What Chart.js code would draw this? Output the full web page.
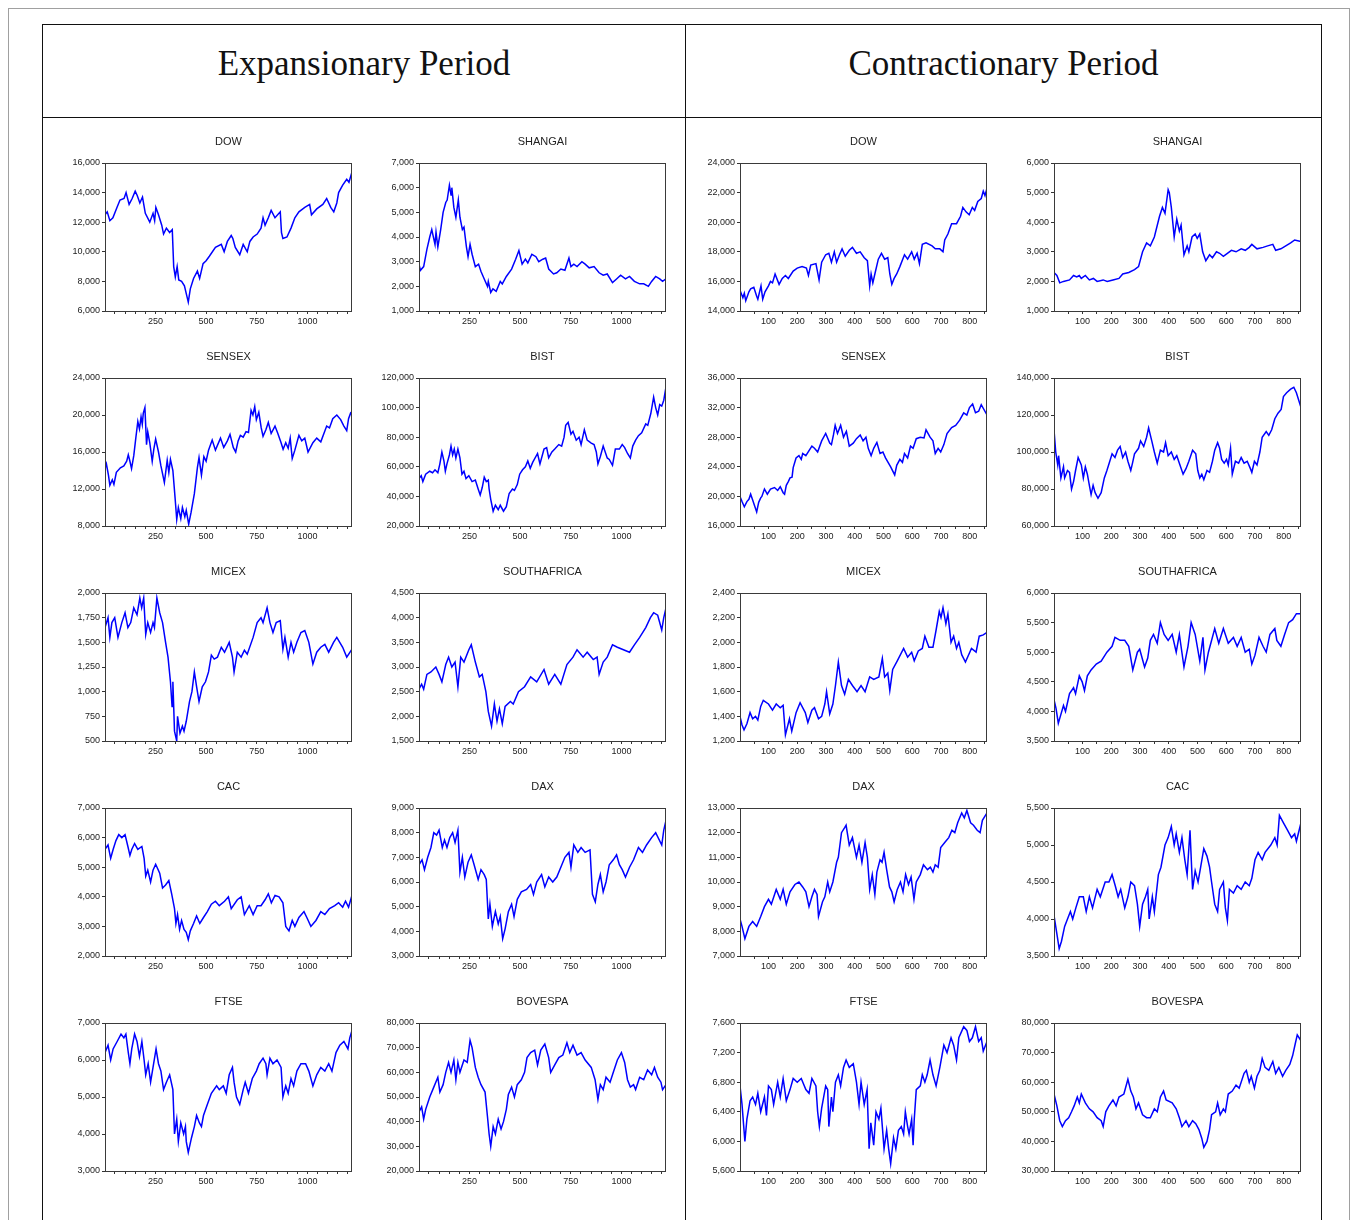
<!DOCTYPE html>
<html lang="en">
<head>
<meta charset="utf-8" />
<script src="https://cdn.jsdelivr.net/npm/chart.js@4.4.1/dist/chart.umd.min.js"></script>
<style>
  body { margin: 0; width: 1357px; height: 1220px; overflow: hidden; background: #fff; position: relative; }
  .box { position: absolute; box-sizing: border-box; }
  #outer { left: 8px; top: 8px; width: 1342px; height: 1300px; border: 1px solid #a0a0a0; }
  #table { left: 42px; top: 24px; width: 1280px; height: 1300px; border: 1.5px solid #111; }
  #hline { left: 42px; top: 117px; width: 1280px; height: 0; border-top: 1.5px solid #111; }
  #vline { left: 685px; top: 24px; width: 0; height: 1300px; border-left: 1.5px solid #111; }
  .head { position: absolute; top: 46px; font: 35px/35px "Liberation Serif", "Times New Roman", serif; color: #111; text-align: center; }
  canvas { position: absolute; }
</style>
</head>
<body>
<div class="box" id="outer"></div>
<div class="box" id="table"></div>
<div class="box" id="hline"></div>
<div class="box" id="vline"></div>
<div class="head" style="left:42px;width:644px">Expansionary Period</div>
<div class="head" style="left:686px;width:635px">Contractionary Period</div>
<script>
// ---- expansionary period, [observation, index level] ----
const expDow = [[1,12500],[12,12700],[25,12100],[40,12300],[60,13000],[75,13500],[95,13600],[105,14000],[120,13200],[135,13600],[150,14100],[160,13800],[173,13300],[186,13700],[200,12600],[222,12000],[238,12600],[246,12100],[252,13000],[265,12500],[281,11800],[290,11200],[304,11600],[320,11300],[333,11500],[340,9000],[348,8300],[357,9000],[365,8100],[379,8000],[393,7700],[405,7000],[412,6600],[422,7500],[438,8200],[457,8700],[468,8200],[485,9200],[500,9400],[516,9700],[546,10300],[575,10500],[589,10000],[605,10700],[624,11100],[632,10900],[644,10300],[666,9800],[683,10500],[703,10000],[716,10700],[732,11000],[752,11200],[771,11600],[781,12300],[791,11800],[807,12300],[821,12800],[840,12300],[866,12700],[872,11300],[879,10900],[899,11000],[919,11600],[938,12300],[958,12700],[987,13000],[1011,13200],[1020,12500],[1046,12900],[1076,13200],[1095,13600],[1115,13000],[1130,12700],[1145,13300],[1154,14000],[1174,14500],[1194,14900],[1205,14700],[1220,15400]];
const expShangai = [[1,2900],[8,2650],[24,2800],[40,3500],[54,4000],[64,4300],[80,3700],[85,4200],[94,3600],[108,4300],[120,5000],[133,5400],[140,5500],[151,6100],[159,5700],[163,6000],[173,5200],[183,4800],[195,5500],[203,4800],[215,4300],[223,4400],[235,3600],[243,3200],[253,3700],[263,3300],[279,2800],[295,2900],[307,2600],[323,2300],[339,2000],[343,2200],[355,1750],[366,1900],[382,1800],[402,2200],[412,2100],[432,2400],[458,2700],[478,3100],[494,3450],[510,2900],[526,3100],[538,2950],[558,3300],[578,3200],[592,3000],[612,3100],[626,3150],[641,2700],[665,2500],[681,2550],[701,2700],[721,2650],[741,3150],[751,2800],[765,2900],[781,2800],[805,3000],[821,2900],[841,2750],[865,2800],[890,2550],[910,2450],[930,2500],[956,2150],[976,2300],[996,2450],[1020,2300],[1040,2400],[1064,2200],[1090,2100],[1110,2100],[1133,2000],[1149,2200],[1169,2400],[1189,2300],[1203,2200],[1220,2300]];
const expSensex = [[1,14200],[8,14700],[18,13500],[25,12400],[37,13000],[45,12500],[57,13800],[77,14300],[94,14500],[108,15000],[116,15700],[124,15000],[132,14200],[143,15600],[153,17500],[163,19300],[171,18500],[179,19800],[185,19000],[190,20200],[198,20800],[206,16800],[212,18200],[222,17000],[234,15000],[242,16300],[251,17400],[265,16000],[277,14500],[294,12700],[308,15100],[316,13800],[324,15200],[336,14000],[347,11000],[355,8700],[363,10000],[375,8800],[383,10000],[395,9000],[402,9700],[414,8200],[426,9500],[442,11500],[457,14300],[465,15400],[477,13500],[489,15500],[500,15000],[512,16200],[530,17300],[546,16200],[571,17500],[587,16500],[605,17200],[618,17900],[634,16500],[646,16000],[658,17200],[669,17800],[683,17600],[697,18200],[709,18100],[722,20500],[731,20000],[740,20900],[748,19500],[760,20300],[772,18600],[781,17700],[795,18400],[807,19200],[821,18000],[840,18800],[854,18000],[870,17000],[880,16300],[893,17000],[905,16400],[915,17500],[925,15300],[938,16200],[958,17800],[972,17200],[987,17500],[1003,16000],[1027,17000],[1046,17500],[1066,17100],[1095,18800],[1109,18600],[1125,19600],[1145,20000],[1164,19500],[1180,18800],[1194,18300],[1203,19600],[1213,20200],[1220,20000]];
const expBist = [[1,52000],[12,54000],[20,50000],[34,55000],[54,57000],[68,56000],[80,58000],[94,56000],[104,62000],[114,70000],[124,64000],[131,57000],[139,62000],[151,68000],[159,74000],[167,68000],[175,72000],[183,66000],[193,72000],[203,66000],[213,55000],[223,57000],[233,52000],[247,54000],[263,50000],[279,51000],[293,45000],[303,41000],[313,46000],[323,53000],[333,50000],[343,51000],[347,45000],[355,38000],[367,30000],[378,34000],[392,31000],[402,34000],[418,30000],[432,33000],[446,42000],[462,45000],[472,44000],[486,48000],[498,55000],[512,58000],[526,60000],[538,64000],[550,59000],[562,63000],[586,69000],[598,62000],[618,72000],[631,73000],[641,66000],[657,70000],[671,72000],[691,75000],[705,74000],[717,80000],[725,88000],[737,90000],[751,82000],[761,84000],[777,78000],[791,80000],[801,75000],[817,85000],[831,78000],[851,76000],[865,75000],[876,70000],[884,62000],[896,67000],[910,74000],[930,66000],[940,65000],[956,61000],[970,72000],[990,72000],[1004,75000],[1016,73000],[1030,69000],[1044,66000],[1056,74000],[1070,78000],[1084,81000],[1100,83000],[1120,89000],[1130,88000],[1145,96000],[1159,107000],[1169,100000],[1179,95000],[1189,102000],[1199,101000],[1209,105000],[1220,114000]];
const expMicex = [[1,1650],[16,1750],[25,1550],[35,1700],[49,1750],[65,1550],[84,1700],[100,1800],[114,1650],[128,1700],[143,1850],[159,1780],[173,1950],[182,1850],[192,1950],[202,1580],[212,1700],[226,1600],[238,1700],[245,1650],[257,1950],[271,1800],[285,1700],[300,1500],[312,1350],[324,1100],[332,850],[336,1100],[344,600],[355,500],[359,750],[371,580],[383,650],[391,600],[402,700],[418,900],[430,1000],[442,1200],[453,1050],[465,900],[481,1050],[497,1100],[512,1200],[526,1370],[540,1330],[556,1350],[575,1450],[591,1400],[614,1500],[630,1350],[638,1200],[654,1400],[673,1350],[689,1420],[703,1380],[732,1550],[752,1700],[771,1750],[781,1700],[801,1850],[815,1700],[830,1600],[846,1700],[866,1720],[879,1430],[889,1550],[905,1350],[919,1500],[932,1400],[948,1500],[968,1600],[987,1620],[1007,1500],[1027,1280],[1046,1400],[1066,1450],[1086,1480],[1105,1400],[1129,1500],[1145,1550],[1174,1450],[1194,1350],[1220,1430]];
const expSouthAfrica = [[1,2550],[14,2650],[24,2550],[40,2850],[60,2900],[84,3000],[100,2850],[114,2700],[133,3050],[147,3200],[163,3000],[179,3100],[193,2600],[207,3200],[223,3100],[247,3350],[259,3450],[279,3100],[299,2800],[313,2850],[331,2500],[343,2100],[359,1800],[373,2250],[386,1900],[398,2150],[412,1850],[426,2200],[452,2300],[466,2250],[492,2500],[522,2600],[552,2800],[582,2700],[618,2950],[641,2650],[671,2850],[701,2650],[731,3050],[761,3200],[781,3350],[811,3200],[831,3300],[861,3150],[880,3200],[890,2850],[910,3100],[930,3200],[956,3450],[980,3400],[1010,3350],[1040,3300],[1064,3450],[1090,3600],[1120,3800],[1143,4000],[1159,4100],[1179,4050],[1199,3750],[1209,4000],[1220,4200]];
const expCac = [[1,5600],[16,5750],[29,5300],[41,5600],[55,5900],[69,6100],[84,6000],[100,6100],[114,5700],[124,5400],[133,5600],[147,5800],[163,5600],[183,5700],[194,5300],[202,4700],[212,4900],[226,4500],[238,4900],[251,5100],[271,4800],[285,4300],[300,4400],[316,4550],[330,4100],[344,3600],[351,3100],[359,3400],[369,2900],[379,3200],[391,2900],[402,2800],[412,2550],[422,2850],[438,3100],[453,3350],[469,3100],[487,3300],[506,3500],[526,3750],[546,3850],[565,3700],[591,3850],[610,4000],[624,3600],[654,3900],[673,4000],[689,3400],[713,3700],[732,3400],[752,3700],[771,3700],[791,3900],[807,4100],[822,3800],[840,4050],[860,4000],[879,3800],[893,3000],[909,2850],[925,3200],[938,3000],[958,3300],[983,3500],[997,3300],[1017,3000],[1042,3200],[1066,3500],[1086,3400],[1109,3600],[1135,3700],[1154,3800],[1174,3650],[1188,3850],[1203,3650],[1220,4050]];
const expDax = [[1,6700],[16,6900],[28,6500],[44,7000],[60,7400],[74,8000],[88,7900],[100,8100],[116,7400],[127,7700],[139,7400],[153,7800],[167,8000],[179,7600],[193,8100],[203,6400],[215,7000],[227,6200],[243,6800],[259,7100],[273,6700],[293,6100],[307,6500],[323,6300],[333,6100],[343,4500],[351,5100],[363,4200],[378,4800],[392,4300],[402,4600],[414,3700],[426,4100],[442,4800],[458,5100],[470,4600],[486,5300],[506,5600],[532,5700],[552,5900],[566,5500],[582,6000],[606,6300],[622,5800],[641,6200],[661,6000],[681,6200],[701,6600],[721,7000],[741,7200],[751,6600],[765,7500],[785,7200],[801,7400],[821,7200],[845,7300],[857,5500],[871,5200],[884,5900],[896,6300],[910,5600],[924,6000],[940,6700],[960,6900],[976,7100],[990,6700],[1004,6500],[1020,6200],[1040,6600],[1060,6900],[1084,7400],[1104,7200],[1124,7500],[1149,7800],[1169,8000],[1199,7500],[1209,8100],[1220,8500]];
const expFtse = [[1,6200],[16,6400],[29,6000],[41,6300],[61,6500],[80,6700],[94,6600],[104,6700],[116,6200],[124,5900],[133,6300],[147,6700],[159,6500],[171,6100],[183,6500],[194,6000],[202,5600],[214,5900],[226,5400],[238,5800],[253,6300],[265,5900],[277,5700],[290,5200],[304,5400],[320,5600],[336,5200],[344,4000],[355,4400],[363,3800],[375,4300],[389,4000],[398,4200],[402,3800],[412,3500],[428,3900],[442,4200],[453,4500],[467,4300],[477,4200],[487,4500],[506,4800],[526,5100],[552,5300],[565,5200],[585,5300],[599,5100],[614,5600],[630,5800],[638,5400],[650,5000],[666,4800],[683,5200],[693,5400],[709,5100],[728,5500],[748,5700],[762,5900],[781,6050],[795,5900],[801,5600],[815,6050],[830,5900],[850,6000],[870,5800],[879,5000],[893,5300],[905,5100],[919,5500],[932,5300],[948,5700],[968,5900],[991,5900],[1007,5700],[1027,5300],[1046,5600],[1066,5800],[1086,5700],[1105,5900],[1121,5700],[1141,6200],[1160,6400],[1180,6500],[1200,6300],[1209,6600],[1220,6800]];
const expBovespa = [[1,44000],[14,46000],[24,41000],[34,45000],[54,50000],[74,54000],[94,58000],[104,52000],[120,55000],[133,60000],[147,64000],[159,60000],[173,65000],[183,57000],[193,64000],[203,60000],[223,65000],[239,64000],[253,73000],[263,70000],[279,62000],[293,58000],[307,55000],[327,52000],[339,42000],[347,35000],[355,30000],[367,38000],[378,35000],[392,41000],[406,37000],[418,40000],[432,45000],[442,51000],[458,54000],[472,50000],[486,55000],[506,57000],[522,60000],[534,66000],[552,68000],[572,69000],[586,63000],[602,69000],[622,71500],[641,66000],[651,60000],[671,63000],[691,66000],[711,67000],[731,72000],[745,68000],[761,71000],[781,67000],[801,68000],[821,65000],[851,62000],[870,57000],[884,49000],[896,55000],[910,53000],[924,58000],[944,56000],[960,60000],[980,65000],[1000,68000],[1016,64000],[1030,57000],[1044,54000],[1060,55000],[1070,53000],[1090,58000],[1110,57000],[1129,61000],[1149,59000],[1163,62000],[1179,58000],[1195,56000],[1203,53000],[1220,55000]];

// ---- contractionary period ----
const conDow = [[1,15400],[11,14900],[16,15200],[21,14700],[32,15300],[38,15500],[49,15600],[59,15000],[63,14800],[74,15700],[80,14800],[88,15300],[100,15700],[107,16000],[114,15900],[123,16500],[137,15800],[148,16200],[159,16400],[169,16200],[186,16700],[200,16900],[217,17000],[232,16900],[239,16400],[247,17100],[265,17200],[276,16100],[285,17300],[299,17800],[310,17900],[319,17300],[329,18000],[337,17300],[347,17800],[356,18200],[367,17700],[381,18100],[392,18300],[406,17900],[419,18000],[433,17600],[444,17400],[452,15700],[457,16500],[463,15900],[470,16500],[482,17500],[493,17900],[504,17500],[515,17600],[522,16500],[529,15800],[537,16200],[546,16500],[557,17000],[573,17800],[584,17500],[598,18000],[607,17500],[617,17900],[625,17200],[635,18500],[648,18600],[669,18400],[680,18200],[696,18200],[707,18000],[713,18800],[724,19200],[737,19900],[754,19900],[768,20400],[776,21000],[787,20700],[798,20500],[809,21000],[817,20800],[828,21400],[840,21600],[847,22100],[853,21800],[860,22300]];
const conShangai = [[1,2300],[11,2200],[21,1950],[34,2000],[55,2050],[69,2200],[80,2150],[89,2200],[96,2100],[110,2200],[124,2050],[138,2100],[151,2000],[172,2050],[186,2000],[206,2050],[227,2100],[240,2250],[261,2300],[281,2400],[295,2500],[309,3000],[323,3300],[336,3200],[350,3500],[368,4200],[378,4500],[387,4300],[398,5100],[402,5000],[409,4500],[419,3500],[428,4100],[437,3700],[443,3900],[453,2900],[464,3200],[470,3000],[481,3500],[492,3600],[499,3450],[508,3600],[518,3000],[529,2700],[542,2900],[552,2800],[566,3000],[577,2950],[590,2850],[604,2950],[618,3050],[634,3000],[652,3100],[666,3050],[680,3150],[689,3250],[707,3100],[728,3150],[744,3200],[762,3250],[772,3050],[790,3100],[807,3200],[824,3300],[838,3400],[860,3350]];
const conSensex = [[1,20000],[8,19300],[16,18600],[25,19300],[32,19600],[38,20300],[45,19500],[52,18700],[59,17900],[66,19200],[73,19800],[77,20000],[86,21000],[96,20300],[107,21000],[121,21200],[132,20800],[141,21300],[151,20500],[156,20300],[162,21500],[169,22000],[175,22500],[182,22600],[186,23900],[196,25200],[206,25500],[214,25000],[219,25800],[230,25500],[251,26800],[260,26500],[271,26000],[285,27500],[299,28500],[313,27200],[319,27000],[326,28300],[332,29600],[340,28500],[351,29600],[361,28000],[371,28800],[381,26800],[395,27200],[406,27800],[419,28300],[429,27500],[439,28000],[447,26500],[457,25500],[466,26500],[477,27300],[488,25800],[498,26000],[507,25200],[525,24000],[539,22900],[546,24200],[557,25000],[566,24600],[573,25800],[584,25200],[594,26800],[603,26500],[614,27800],[628,28000],[641,27900],[648,29000],[662,28000],[672,27500],[680,25800],[690,26500],[699,26000],[710,27000],[721,28500],[737,29300],[751,29600],[765,30300],[779,31300],[790,31000],[799,32000],[810,32500],[820,31300],[831,31500],[840,32400],[860,31000]];
const conBist = [[1,112000],[7,100000],[14,93000],[17,98000],[25,86000],[34,92000],[38,86000],[48,90000],[55,89000],[62,80000],[69,84000],[76,90000],[85,97000],[96,93000],[103,86000],[110,92000],[117,88000],[124,82000],[130,77000],[137,82000],[144,78000],[154,75000],[165,78000],[176,86000],[185,90000],[195,95000],[203,99000],[213,97000],[222,101000],[231,103000],[240,97000],[250,100000],[258,95000],[268,90000],[274,94000],[281,99000],[295,102000],[302,106000],[313,103000],[323,108000],[330,113000],[341,106000],[350,100000],[360,94000],[371,101000],[382,100000],[389,105000],[398,98000],[409,100000],[419,96000],[428,98000],[439,93000],[450,88000],[460,91000],[470,95000],[483,101000],[494,99000],[501,90000],[508,86000],[515,88000],[522,85000],[533,90000],[542,89000],[552,95000],[560,101000],[570,105000],[577,102000],[584,96000],[593,94000],[601,96000],[607,93000],[615,102000],[621,88000],[632,95000],[643,94000],[652,97000],[662,94000],[673,95000],[684,91000],[689,89000],[698,95000],[707,93000],[717,100000],[725,108000],[739,111000],[748,109000],[758,112000],[769,118000],[780,121000],[791,123000],[799,130000],[810,132000],[824,134000],[835,135000],[844,132000],[860,124000]];
const conMicex = [[1,1400],[8,1330],[15,1290],[25,1340],[36,1430],[45,1380],[55,1400],[63,1370],[73,1480],[82,1530],[100,1500],[114,1450],[127,1500],[141,1470],[151,1490],[159,1250],[173,1380],[181,1280],[196,1430],[210,1510],[228,1430],[237,1350],[251,1450],[260,1470],[274,1380],[285,1400],[296,1500],[302,1600],[313,1420],[324,1500],[333,1650],[343,1840],[354,1650],[365,1580],[378,1700],[392,1650],[408,1600],[422,1650],[436,1600],[452,1720],[466,1700],[484,1720],[496,1870],[504,1720],[515,1750],[522,1610],[532,1780],[548,1850],[570,1950],[584,1880],[598,1920],[607,1850],[621,1930],[635,1950],[644,2050],[658,1960],[672,1960],[683,2100],[694,2250],[700,2200],[707,2280],[717,2150],[724,2230],[735,2000],[744,2050],[754,1950],[762,2000],[772,1900],[785,1840],[806,1950],[822,1920],[833,2050],[847,2060],[860,2080]];
const conSouthAfrica = [[1,4200],[8,4050],[16,3800],[25,3950],[34,4100],[41,4000],[55,4300],[69,4400],[76,4300],[89,4600],[99,4500],[107,4350],[117,4600],[130,4700],[148,4800],[165,4850],[185,5000],[203,5100],[213,5250],[231,5200],[247,5200],[261,5100],[275,4700],[291,5000],[299,5050],[316,4750],[327,4900],[336,5200],[347,5300],[360,5150],[371,5500],[384,5300],[398,5200],[412,5300],[426,5000],[437,5300],[453,4750],[467,5100],[478,5500],[492,5300],[508,4850],[519,5250],[526,4700],[538,5000],[560,5400],[574,5150],[590,5400],[607,5150],[625,5250],[638,5100],[652,5250],[666,5000],[680,5050],[689,4800],[700,4950],[714,5250],[728,5100],[739,5000],[752,5300],[769,5400],[776,5200],[790,5100],[803,5300],[817,5500],[831,5550],[844,5650],[860,5650]];
const conDax = [[1,8500],[8,8200],[18,7700],[32,8200],[45,8400],[59,8200],[73,8600],[86,9000],[100,9300],[110,9100],[127,9700],[141,9300],[151,9700],[162,9100],[175,9600],[192,9900],[206,10000],[219,9800],[230,9600],[241,9000],[251,9400],[260,9700],[269,9500],[274,8600],[288,9200],[296,9400],[306,10000],[313,9600],[324,10000],[337,10800],[343,11000],[354,12000],[365,12200],[370,12300],[381,11500],[392,11800],[406,11000],[415,11500],[425,10800],[436,11600],[444,11000],[452,9700],[461,10300],[470,9500],[477,10400],[488,10900],[495,10800],[502,11200],[511,10500],[521,9800],[529,9600],[537,9200],[548,9700],[559,10000],[568,9600],[577,10300],[587,9900],[596,10200],[606,9300],[614,10000],[628,10300],[639,10700],[653,10500],[663,10600],[672,10400],[680,10700],[690,10600],[699,11400],[713,11600],[727,11800],[738,12100],[748,12000],[758,12400],[772,12800],[781,12600],[790,12900],[803,12400],[813,12300],[826,12100],[836,12000],[844,12500],[860,12800]];
const conCac = [[1,4050],[11,3800],[19,3600],[27,3700],[38,3900],[48,4000],[58,4100],[66,4000],[77,4150],[89,4300],[103,4300],[113,4100],[124,4300],[135,4150],[151,4400],[162,4300],[179,4500],[192,4500],[203,4600],[214,4450],[224,4300],[233,4400],[247,4150],[258,4300],[268,4500],[281,4450],[291,4200],[299,3900],[309,4200],[319,4300],[327,4400],[332,4000],[343,4300],[350,4100],[364,4600],[373,4700],[387,5000],[398,5100],[409,5250],[419,5000],[426,5150],[437,4900],[446,5100],[456,4800],[464,4600],[474,5200],[483,4400],[492,4650],[502,4500],[511,4700],[522,4950],[533,4850],[542,4700],[549,4500],[560,4200],[570,4100],[577,4400],[590,4500],[597,4150],[604,3980],[611,4400],[625,4350],[638,4450],[652,4400],[666,4500],[680,4450],[689,4550],[700,4800],[711,4900],[725,4800],[735,4900],[755,5000],[769,5100],[777,5000],[785,5400],[799,5300],[813,5200],[827,5100],[838,5150],[844,5050],[860,5300]];
const conFtse = [[1,6750],[8,6500],[14,6200],[18,6000],[25,6300],[36,6550],[45,6600],[55,6500],[63,6650],[73,6400],[86,6600],[93,6350],[100,6750],[110,6700],[118,6500],[132,6800],[141,6600],[151,6850],[162,6550],[175,6700],[186,6850],[200,6800],[214,6850],[230,6700],[241,6650],[251,6850],[265,6750],[271,6400],[277,6200],[285,6450],[299,6750],[306,6700],[310,6200],[319,6600],[324,6400],[333,6800],[343,6900],[351,6750],[361,7000],[370,7100],[381,7000],[395,7050],[406,6800],[415,6500],[422,6800],[433,6500],[443,6700],[450,5900],[456,6250],[466,5950],[474,6400],[484,6300],[491,6450],[502,5900],[511,6150],[518,5900],[525,5700],[535,6050],[543,5900],[552,6150],[562,6200],[570,6100],[576,6400],[584,6200],[589,6100],[598,6300],[603,5950],[607,6300],[614,6700],[628,6750],[635,6900],[644,6800],[652,6900],[662,7100],[672,6900],[683,6750],[696,7000],[710,7300],[721,7200],[735,7400],[744,7300],[754,7100],[762,7400],[779,7550],[790,7500],[799,7350],[809,7400],[820,7550],[831,7350],[840,7400],[847,7220],[860,7350]];
const conBovespa = [[1,56000],[11,52000],[21,47000],[30,45000],[41,47000],[52,48000],[62,50000],[71,52000],[82,55000],[89,53000],[96,56000],[110,53000],[124,51000],[137,50000],[151,48000],[165,47000],[172,45000],[181,50000],[192,52000],[206,54000],[217,52000],[227,55000],[244,56000],[258,61000],[268,57000],[277,55000],[286,51000],[295,53000],[309,49000],[323,48000],[336,48000],[350,51000],[360,50000],[371,55000],[382,57000],[391,54000],[412,53000],[426,51000],[437,48000],[446,45000],[460,47000],[470,45000],[483,47000],[494,46000],[505,44000],[515,41000],[522,38000],[533,40000],[542,44000],[549,49000],[563,50000],[570,53000],[579,49000],[590,51000],[597,50000],[607,56000],[621,57000],[634,59000],[645,58000],[662,63000],[670,64000],[680,60000],[687,62000],[698,58000],[707,62000],[717,64000],[725,68000],[735,65000],[748,64000],[762,67000],[772,63000],[783,65000],[796,62000],[807,64000],[821,66000],[831,69000],[840,73000],[847,76000],[860,74000]];

// titles, series and y-axis [min, max, step], in reading order
const expTitles = ['DOW', 'SHANGAI', 'SENSEX', 'BIST', 'MICEX', 'SOUTHAFRICA', 'CAC', 'DAX', 'FTSE', 'BOVESPA'];
const expSeries = [expDow, expShangai, expSensex, expBist, expMicex, expSouthAfrica, expCac, expDax, expFtse, expBovespa];
const expAxes = [[6000,16000,2000],[1000,7000,1000],[8000,24000,4000],[20000,120000,20000],[500,2000,250],[1500,4500,500],[2000,7000,1000],[3000,9000,1000],[3000,7000,1000],[20000,80000,10000]];
const conTitles = ['DOW', 'SHANGAI', 'SENSEX', 'BIST', 'MICEX', 'SOUTHAFRICA', 'DAX', 'CAC', 'FTSE', 'BOVESPA'];
const conSeries = [conDow, conShangai, conSensex, conBist, conMicex, conSouthAfrica, conDax, conCac, conFtse, conBovespa];
const conAxes = [[14000,24000,2000],[1000,6000,1000],[16000,36000,4000],[60000,140000,20000],[1200,2400,200],[3500,6000,500],[7000,13000,1000],[3500,5500,500],[5600,7600,400],[30000,80000,10000]];

// page geometry of the plot boxes
const colLeft = [105, 419, 740, 1054];
const rowTop = [163, 378, 593, 808, 1023];
const plotW = 247, plotH = 148;
const padL = 62, padT = 32, padR = 6, padB = 22;
const fontFam = '"Liberation Sans", Arial, sans-serif';

// box round the plot and the title above it
const framePlugin = {
    id: 'frame',
    afterDraw(chart, args, opts) {
        const { ctx, chartArea: a } = chart;
        ctx.save();
        ctx.strokeStyle = '#3a3a3a';
        ctx.lineWidth = 1;
        ctx.strokeRect(Math.round(a.left) + 0.5, Math.round(a.top) + 0.5, Math.round(a.width) - 1, Math.round(a.height));
        ctx.fillStyle = '#222';
        ctx.font = '11px ' + fontFam;
        ctx.textAlign = 'center';
        ctx.textBaseline = 'middle';
        ctx.fillText(opts.text, (a.left + a.right) / 2, a.top - 21);
        ctx.restore();
    }
};

function panel(title, series, axis, col, row, xMax, labelEvery) {
    const cv = document.createElement('canvas');
    cv.width = padL + plotW + padR;
    cv.height = padT + plotH + padB;
    cv.style.left = (colLeft[col] - padL) + 'px';
    cv.style.top = (rowTop[row] - padT) + 'px';
    document.body.appendChild(cv);

    new Chart(cv.getContext('2d'), {
        type: 'line',
        data: {
            datasets: [{
                label: title,
                data: series.map(p => ({ x: p[0], y: p[1] })),
                borderColor: '#0000ff',
                borderWidth: 1.5,
                pointRadius: 0,
                tension: 0
            }]
        },
        options: {
            responsive: false,
            animation: false,
            events: [],
            layout: { padding: { top: padT, right: padR, left: 0, bottom: 0 } },
            plugins: { legend: { display: false }, tooltip: { enabled: false }, frame: { text: title } },
            scales: {
                x: {
                    type: 'linear', min: 1, max: xMax,
                    afterFit: s => { s.height = padB; },
                    border: { display: false },
                    grid: { drawOnChartArea: false, drawTicks: true, tickLength: 3, color: '#333' },
                    ticks: {
                        stepSize: 50, autoSkip: false, includeBounds: false, maxRotation: 0, padding: 2,
                        font: { size: 9, family: fontFam }, color: '#222',
                        callback: v => (v % labelEvery === 0 ? String(v) : '')
                    }
                },
                y: {
                    min: axis[0], max: axis[1],
                    afterFit: s => { s.width = padL; },
                    border: { display: false },
                    grid: { drawOnChartArea: false, drawTicks: true, tickLength: 3, color: '#333' },
                    ticks: {
                        stepSize: axis[2], padding: 2,
                        font: { size: 9, family: fontFam }, color: '#222',
                        callback: v => v.toLocaleString('en-US')
                    }
                }
            }
        },
        plugins: [framePlugin]
    });
}

expTitles.forEach((t, i) => panel(t, expSeries[i], expAxes[i], i % 2, Math.floor(i / 2), 1220, 250));
conTitles.forEach((t, i) => panel(t, conSeries[i], conAxes[i], 2 + i % 2, Math.floor(i / 2), 860, 100));
</script>
</body>
</html>
